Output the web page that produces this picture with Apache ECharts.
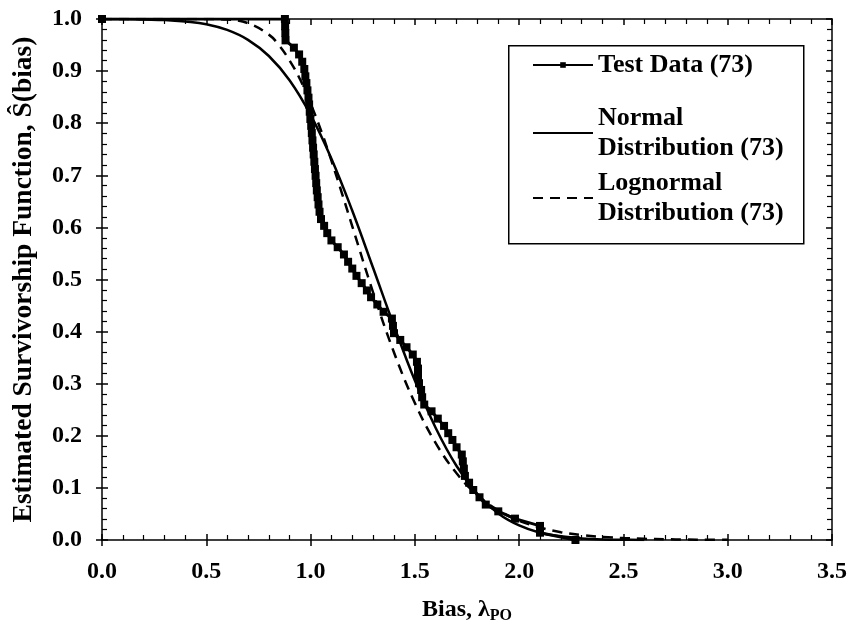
<!DOCTYPE html>
<html>
<head>
<meta charset="utf-8">
<script src="https://cdn.jsdelivr.net/npm/echarts@6/dist/echarts.min.js"></script>
<style>html,body{margin:0;padding:0;background:#fff}#c{width:853px;height:625px}</style>
</head>
<body>
<div id="c"></div>
<script>
// ---- data ----
const testX = [0, 0.877, 0.878, 0.879, 0.88, 0.92, 0.945, 0.96, 0.97, 0.975, 0.98, 0.985, 0.99, 0.993, 0.996, 0.999, 1.003, 1.006, 1.009, 1.012, 1.015, 1.018, 1.021, 1.024, 1.027, 1.03, 1.034, 1.038, 1.043, 1.05, 1.065, 1.08, 1.10, 1.13, 1.16, 1.18, 1.20, 1.22, 1.245, 1.27, 1.29, 1.32, 1.35, 1.39, 1.395, 1.40, 1.43, 1.46, 1.49, 1.51, 1.515, 1.515, 1.52, 1.53, 1.535, 1.545, 1.58, 1.61, 1.64, 1.66, 1.68, 1.70, 1.725, 1.73, 1.735, 1.74, 1.76, 1.78, 1.81, 1.84, 1.90, 1.98, 2.10, 2.10, 2.27];
const testS = [1.000, 1.000, 0.986, 0.973, 0.959, 0.945, 0.932, 0.918, 0.904, 0.890, 0.877, 0.863, 0.849, 0.836, 0.822, 0.808, 0.795, 0.781, 0.767, 0.753, 0.740, 0.726, 0.712, 0.699, 0.685, 0.671, 0.658, 0.644, 0.630, 0.616, 0.603, 0.589, 0.575, 0.562, 0.548, 0.534, 0.521, 0.507, 0.493, 0.479, 0.466, 0.452, 0.438, 0.425, 0.411, 0.397, 0.384, 0.370, 0.356, 0.342, 0.329, 0.315, 0.301, 0.288, 0.274, 0.260, 0.247, 0.233, 0.219, 0.205, 0.192, 0.178, 0.164, 0.151, 0.137, 0.123, 0.110, 0.096, 0.082, 0.068, 0.055, 0.041, 0.027, 0.014, 0.000];

const normX = [0.0, 0.1, 0.2, 0.3, 0.4, 0.5, 0.6, 0.7, 0.8, 0.9, 1.0, 1.1, 1.2, 1.3, 1.4, 1.5, 1.6, 1.7, 1.8, 1.9, 2.0, 2.1, 2.2, 2.3, 2.4, 2.5, 2.6];
const normS = [1.000, 1.000, 0.999, 0.998, 0.995, 0.990, 0.979, 0.960, 0.929, 0.882, 0.816, 0.732, 0.632, 0.522, 0.411, 0.306, 0.215, 0.142, 0.088, 0.051, 0.028, 0.014, 0.007, 0.003, 0.001, 0.0004, 0.000];

const lognX = [0.0, 0.1, 0.2, 0.3, 0.4, 0.5, 0.6, 0.7, 0.8, 0.85, 0.9, 0.95, 1.0, 1.05, 1.1, 1.15, 1.2, 1.3, 1.4, 1.5, 1.6, 1.7, 1.8, 1.9, 2.0, 2.1, 2.2, 2.3, 2.4, 2.5, 2.6, 2.7, 2.8, 2.9, 3.0];
const lognS = [1.000, 1.000, 1.000, 1.000, 1.000, 1.000, 0.999, 0.992, 0.970, 0.949, 0.920, 0.884, 0.838, 0.786, 0.728, 0.666, 0.602, 0.475, 0.360, 0.263, 0.186, 0.128, 0.086, 0.057, 0.037, 0.024, 0.015, 0.0095, 0.006, 0.0037, 0.0023, 0.0014, 0.0009, 0.0005, 0.0003];

const seriesNames = ['Test Data (73)', 'Normal Distribution (73)', 'Lognormal Distribution (73)'];
const xTitle = 'Bias, λ';
const xTitleSub = 'PO';
const yTitle = 'Estimated Survivorship Function, Ŝ(bias)';

// ---- chart ----
const FONT = '"Liberation Serif", "Times New Roman", serif';
const BLACK = '#000';
const zip = (xs, ys) => xs.map((x, i) => [x, ys[i]]);

const baseAxis = {
  type: 'value',
  splitLine: { show: false },
  axisLine: { show: true, onZero: false, lineStyle: { color: BLACK, width: 1.5 } },
  axisTick: { show: true, inside: true, length: 6, lineStyle: { color: BLACK, width: 1.5 } },
  minorTick: { show: true, splitNumber: 5, length: 5, lineStyle: { color: BLACK, width: 1.2 } },
  axisLabel: { show: false }
};
const outsideTicks = {
  type: 'value',
  splitLine: { show: false },
  axisLine: { show: false },
  axisTick: { show: true, inside: false, length: 6, lineStyle: { color: BLACK, width: 1.5 } },
  axisLabel: { show: false }
};
const labelStyle = { show: true, color: BLACK, fontFamily: FONT, fontWeight: 'bold', fontSize: 24 };

const legendText = { color: BLACK, fontFamily: FONT, fontWeight: 'bold', fontSize: 26, lineHeight: 30 };
const hiddenSymbol = { color: 'rgba(0,0,0,0)', borderColor: 'rgba(0,0,0,0)', borderWidth: 0, opacity: 0 };

const option = {
  animation: false,
  backgroundColor: '#fff',
  grid: { left: 102, right: 21, top: 19, bottom: 85, containLabel: false, outerBoundsMode: 'none' },
  graphic: [{
    type: 'rect', left: 508, top: 45, z: 1,
    shape: { width: 295, height: 198 },
    style: { fill: '#fff', stroke: BLACK, lineWidth: 1.5 }
  }],
  legend: [
    { data: [seriesNames[0]], orient: 'vertical', left: 532, top: 50, padding: 0, itemWidth: 60, itemHeight: 7,
      textStyle: Object.assign({}, legendText, { padding: [0, 0, 0, 0] }) },
    { data: [seriesNames[1]], orient: 'vertical', left: 532, top: 88, padding: 0, itemWidth: 60, itemHeight: 7,
      itemStyle: hiddenSymbol,
      formatter: n => n.replace(' ', '\n'), textStyle: Object.assign({}, legendText, { padding: [30, 0, 0, 0] }) },
    { data: [seriesNames[2]], orient: 'vertical', left: 532, top: 153, padding: 0, itemWidth: 60, itemHeight: 7,
      itemStyle: hiddenSymbol,
      formatter: n => n.replace(' ', '\n'), textStyle: Object.assign({}, legendText, { padding: [30, 0, 0, 0] }) }
  ],
  xAxis: [
    Object.assign({}, baseAxis, {
      min: 0, max: 3.5, interval: 0.5, position: 'bottom',
      axisLabel: Object.assign({}, labelStyle, { margin: 20, formatter: v => v.toFixed(1) }),
      name: '{a|' + xTitle + '}{b|' + xTitleSub + '}',
      nameLocation: 'middle', nameGap: 56,
      nameTextStyle: {
        rich: {
          a: { color: BLACK, fontFamily: FONT, fontWeight: 'bold', fontSize: 24 },
          b: { color: BLACK, fontFamily: FONT, fontWeight: 'bold', fontSize: 16, padding: [12, 0, 0, 0] }
        }
      }
    }),
    Object.assign({}, outsideTicks, { min: 0, max: 3.5, interval: 0.5, position: 'bottom' }),
    Object.assign({}, baseAxis, { min: 0, max: 3.5, interval: 0.5, position: 'top' })
  ],
  yAxis: [
    Object.assign({}, baseAxis, {
      min: 0, max: 1, interval: 0.1, position: 'left',
      axisLabel: Object.assign({}, labelStyle, { margin: 20, formatter: v => v.toFixed(1) }),
      name: yTitle, nameLocation: 'middle', nameGap: 64,
      nameTextStyle: { color: BLACK, fontFamily: FONT, fontWeight: 'bold', fontSize: 27.5 }
    }),
    Object.assign({}, outsideTicks, { min: 0, max: 1, interval: 0.1, position: 'left' }),
    Object.assign({}, baseAxis, { min: 0, max: 1, interval: 0.1, position: 'right' })
  ],
  series: [
    {
      name: seriesNames[0], type: 'line', xAxisIndex: 0, yAxisIndex: 0, z: 5,
      data: zip(testX, testS),
      symbol: 'rect', symbolSize: 8, showAllSymbol: true,
      itemStyle: { color: BLACK },
      lineStyle: { color: BLACK, width: 3 }
    },
    {
      name: seriesNames[1], type: 'line', xAxisIndex: 0, yAxisIndex: 0, z: 4,
      data: zip(normX, normS), symbol: 'none', smooth: 0.4,
      itemStyle: { color: BLACK },
      lineStyle: { color: BLACK, width: 2.5 }
    },
    {
      name: seriesNames[2], type: 'line', xAxisIndex: 0, yAxisIndex: 0, z: 4,
      data: zip(lognX, lognS), symbol: 'none', smooth: 0.4,
      itemStyle: { color: BLACK },
      lineStyle: { color: BLACK, width: 2.5, type: [10, 7] }
    }
  ]
};

const chart = echarts.init(document.getElementById('c'), null, { renderer: 'canvas' });
chart.setOption(option);
</script>
</body>
</html>
